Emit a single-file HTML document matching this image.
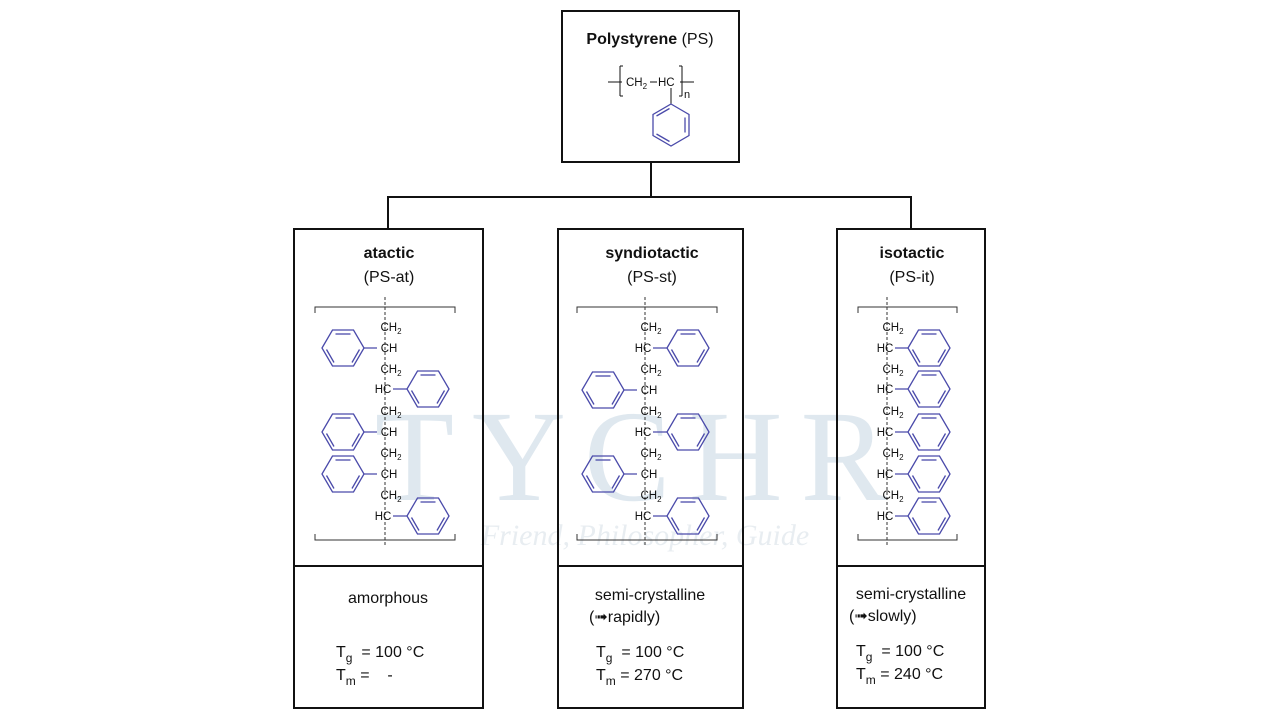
<!DOCTYPE html>
<html><head><meta charset="utf-8"><style>
body{margin:0;background:#fff;}
svg{display:block;font-family:"Liberation Sans",sans-serif;}
.c{font-size:11.5px;fill:#111;text-anchor:middle}
.t{font-size:16px;fill:#111;text-anchor:middle}
</style></head><body>
<svg width="1280" height="720" viewBox="0 0 1280 720" xmlns="http://www.w3.org/2000/svg">
<defs>
<g id="r" fill="none" stroke="#4a4aaa" stroke-width="1.3">
<polygon points="-21,0 -10.5,-18 10.5,-18 21,0 10.5,18 -10.5,18"/>
<line x1="-7.5" y1="-14" x2="7.5" y2="-14"/>
<line x1="16.5" y1="1.5" x2="9" y2="14.5"/>
<line x1="-9" y1="14.5" x2="-16.5" y2="1.5"/>
</g>
</defs>
<!-- watermark -->
<text x="640" y="500" font-family="Liberation Serif,serif" font-size="130" fill="#dfe8ef" text-anchor="middle" letter-spacing="18">TYCHR</text>
<text x="645" y="545" font-family="Liberation Serif,serif" font-style="italic" font-size="30" fill="#e8edf1" text-anchor="middle">Friend, Philosopher, Guide</text>

<g stroke="#111" stroke-width="2" fill="none">
<rect x="562" y="11" width="177" height="151"/>
<path d="M651 162V197M388 229V197H911V229"/>
<rect x="294" y="229" width="189" height="479"/><line x1="294" y1="566" x2="483" y2="566"/>
<rect x="558" y="229" width="185" height="479"/><line x1="558" y1="566" x2="743" y2="566"/>
<rect x="837" y="229" width="148" height="479"/><line x1="837" y1="566" x2="985" y2="566"/>
</g>
<!-- top -->
<text x="650" y="44" class="t"><tspan font-weight="bold">Polystyrene</tspan> (PS)</text>
<g stroke="#111" stroke-width="1" fill="none">
<path d="M608 82H622M620 66V96M620 66h3M620 96h3M682 66V96M682 66h-3M682 96h-3M680 82H694M650 82h7"/>
<line x1="671" y1="88" x2="671" y2="104"/>
</g>
<text x="626" y="86" font-size="11.5" fill="#111">CH<tspan font-size="8" dy="3">2</tspan></text>
<text x="658" y="86" font-size="11.5" fill="#111">HC</text>
<text x="684" y="98" font-size="11" fill="#111">n</text>
<use href="#r" transform="translate(671,125) rotate(90)"/>

<!-- headings -->
<text x="389" y="258" class="t" font-weight="bold">atactic</text><text x="389" y="282" class="t">(PS-at)</text>
<text x="652" y="258" class="t" font-weight="bold">syndiotactic</text><text x="652" y="282" class="t">(PS-st)</text>
<text x="912" y="258" class="t" font-weight="bold">isotactic</text><text x="912" y="282" class="t">(PS-it)</text>

<!-- brackets & dashed -->
<g stroke="#333" stroke-width="1" fill="none">
<path d="M315 313V307H455V313M315 534V540H455V534"/>
<path d="M577 313V307H717V313M577 534V540H717V534"/>
<path d="M858 313V307H957V313M858 534V540H957V534"/>
<g stroke-dasharray="3,2"><line x1="385" y1="297" x2="385" y2="545"/><line x1="645" y1="297" x2="645" y2="545"/><line x1="887" y1="297" x2="887" y2="545"/></g>
</g>

<!-- atactic -->
<g class="c">
<text x="391" y="331">CH<tspan font-size="8" dy="3">2</tspan></text>
<text x="389" y="352">CH</text>
<text x="391" y="373">CH<tspan font-size="8" dy="3">2</tspan></text>
<text x="383" y="393">HC</text>
<text x="391" y="415">CH<tspan font-size="8" dy="3">2</tspan></text>
<text x="389" y="436">CH</text>
<text x="391" y="457">CH<tspan font-size="8" dy="3">2</tspan></text>
<text x="389" y="478">CH</text>
<text x="391" y="499">CH<tspan font-size="8" dy="3">2</tspan></text>
<text x="383" y="520">HC</text>
</g>
<g stroke="#4a4aaa" stroke-width="1.3"><path d="M364 348H377M364 432H377M364 474H377M393 389H407M393 516H407"/></g>
<use href="#r" x="343" y="348"/><use href="#r" x="343" y="432"/><use href="#r" x="343" y="474"/>
<use href="#r" x="428" y="389"/><use href="#r" x="428" y="516"/>

<!-- syndiotactic -->
<g class="c">
<text x="651" y="331">CH<tspan font-size="8" dy="3">2</tspan></text>
<text x="643" y="352">HC</text>
<text x="651" y="373">CH<tspan font-size="8" dy="3">2</tspan></text>
<text x="649" y="394">CH</text>
<text x="651" y="415">CH<tspan font-size="8" dy="3">2</tspan></text>
<text x="643" y="436">HC</text>
<text x="651" y="457">CH<tspan font-size="8" dy="3">2</tspan></text>
<text x="649" y="478">CH</text>
<text x="651" y="499">CH<tspan font-size="8" dy="3">2</tspan></text>
<text x="643" y="520">HC</text>
</g>
<g stroke="#4a4aaa" stroke-width="1.3"><path d="M653 348H667M653 432H667M653 516H667M624 390H637M624 474H637"/></g>
<use href="#r" x="688" y="348"/><use href="#r" x="688" y="432"/><use href="#r" x="688" y="516"/>
<use href="#r" x="603" y="390"/><use href="#r" x="603" y="474"/>

<!-- isotactic -->
<g class="c">
<text x="893" y="331">CH<tspan font-size="8" dy="3">2</tspan></text>
<text x="885" y="352">HC</text>
<text x="893" y="373">CH<tspan font-size="8" dy="3">2</tspan></text>
<text x="885" y="393">HC</text>
<text x="893" y="415">CH<tspan font-size="8" dy="3">2</tspan></text>
<text x="885" y="436">HC</text>
<text x="893" y="457">CH<tspan font-size="8" dy="3">2</tspan></text>
<text x="885" y="478">HC</text>
<text x="893" y="499">CH<tspan font-size="8" dy="3">2</tspan></text>
<text x="885" y="520">HC</text>
</g>
<g stroke="#4a4aaa" stroke-width="1.3"><path d="M895 348H908M895 389H908M895 432H908M895 474H908M895 516H908"/></g>
<use href="#r" x="929" y="348"/><use href="#r" x="929" y="389"/><use href="#r" x="929" y="432"/><use href="#r" x="929" y="474"/><use href="#r" x="929" y="516"/>

<!-- bottom text -->
<g font-size="16" fill="#111">
<text x="388" y="603" text-anchor="middle">amorphous</text>
<text x="336" y="657">T<tspan font-size="12" dy="5">g</tspan><tspan dy="-5" xml:space="preserve">  = 100 °C</tspan></text>
<text x="336" y="680">T<tspan font-size="12" dy="5">m</tspan><tspan dy="-5" xml:space="preserve"> =    -</tspan></text>
<text x="650" y="600" text-anchor="middle">semi-crystalline</text>
<text x="589" y="622">(➟rapidly)</text>
<text x="596" y="657">T<tspan font-size="12" dy="5">g</tspan><tspan dy="-5" xml:space="preserve">  = 100 °C</tspan></text>
<text x="596" y="680">T<tspan font-size="12" dy="5">m</tspan><tspan dy="-5"> = 270 °C</tspan></text>
<text x="911" y="599" text-anchor="middle">semi-crystalline</text>
<text x="849" y="621">(➟slowly)</text>
<text x="856" y="656">T<tspan font-size="12" dy="5">g</tspan><tspan dy="-5" xml:space="preserve">  = 100 °C</tspan></text>
<text x="856" y="679">T<tspan font-size="12" dy="5">m</tspan><tspan dy="-5"> = 240 °C</tspan></text>
</g>
</svg>
</body></html>
